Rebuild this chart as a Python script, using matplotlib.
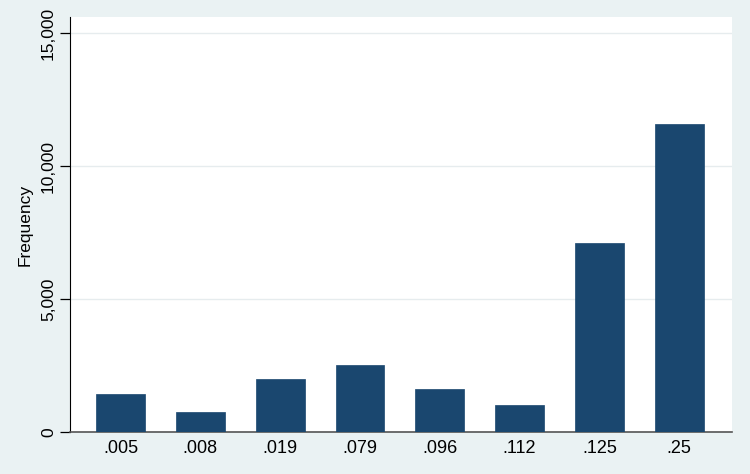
import matplotlib
matplotlib.use('Agg')
import matplotlib.pyplot as plt
from matplotlib.ticker import FuncFormatter

categories = ['.005', '.008', '.019', '.079', '.096', '.112', '.125', '.25']
frequency = [1425, 750, 1990, 2520, 1605, 1015, 7095, 11570]
yticks = [0, 5000, 10000, 15000]

bg = '#eaf2f3'
bar_color = '#1a476f'

plt.rcParams['font.family'] = ['Liberation Sans', 'DejaVu Sans']

fig = plt.figure(figsize=(7.5, 4.74), dpi=100, facecolor=bg)
ax = fig.add_axes([0.0933, 0.0886, 0.883, 0.875])
ax.set_facecolor('white')

x = range(len(categories))
ax.bar(x, frequency, width=0.61, color=bar_color, edgecolor=bar_color, linewidth=0.5, zorder=3)

ax.set_xlim(-0.635, 7.665)
ax.set_ylim(0, 15600)
ax.set_xticks(list(x))
ax.set_xticklabels(categories, fontsize=13)
ax.set_yticks(yticks)
ax.yaxis.set_major_formatter(FuncFormatter(lambda v, p: f'{int(v):,}'))
for lab in ax.get_yticklabels():
    lab.set_rotation(90)
    lab.set_va('center')
    lab.set_fontsize(12.5)
ax.tick_params(axis='x', length=0, pad=6)
ax.tick_params(axis='y', length=7, width=0.9, pad=3)
ax.grid(axis='y', color='#e6ecee', linewidth=1, zorder=0)
ax.set_ylabel('Frequency', fontsize=12.5, labelpad=6)

for s in ['top', 'right']:
    ax.spines[s].set_visible(False)
ax.spines['left'].set_color('black')
ax.spines['bottom'].set_color('#555555')
ax.spines['bottom'].set_linewidth(1.2)

fig.savefig('out.png', dpi=100, facecolor=bg)
